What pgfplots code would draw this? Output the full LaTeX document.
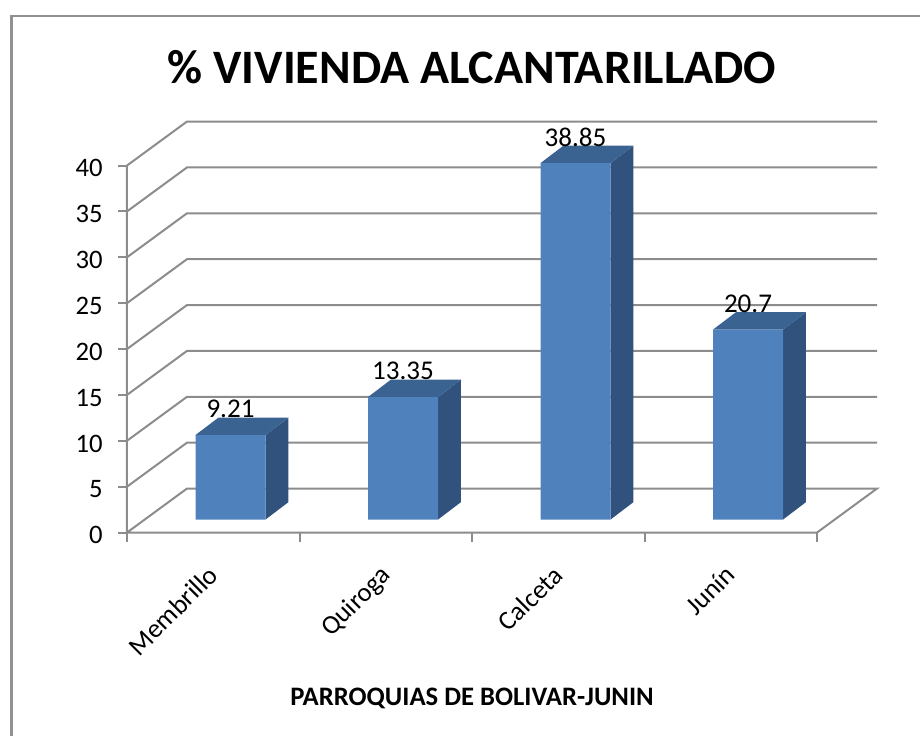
\documentclass[border=0pt]{standalone}
\usepackage{pgfplots}
\usepackage{pgfplotstable}
\usepackage{fontspec}
\setmainfont{Carlito}
\pgfplotsset{compat=1.18}
\definecolor{barfront}{HTML}{4F81BD}
\definecolor{barside}{HTML}{30527C}
\definecolor{bartop}{HTML}{3B6392}
\definecolor{gridgray}{HTML}{8C8C8C}
\definecolor{framegray}{HTML}{919191}

\pgfplotstableread{
x v
0.5 9.21
1.5 13.35
2.5 38.85
3.5 20.7
}\parroquias

\begin{document}
\begin{tikzpicture}
% 1px = .75pt, origin of the axis is at pixel (127,532.5)
\useasboundingbox (-95.25pt,-152.6pt) rectangle (594.75pt,399.4pt);
\draw[framegray,line width=1.9pt] (-86.6pt,-152.6pt) -- (-86.6pt,387.4pt) -- (594.75pt,387.4pt);
\begin{axis}[
 scale only axis,width=562.5pt,height=308.25pt,
 xmin=0,xmax=4.3478,ymin=0,ymax=44.796,clip=false,
 axis line style={draw=none},
 tick align=outside,tick pos=left,
 major tick length=6.75pt,
 tick style={draw=gridgray,line width=1.5pt},
 ytick={0,5,...,40},
 y tick label style={font=\fontsize{20}{22}\selectfont,xshift=-8pt,yshift=-2pt},
 xtick={0,1,2,3,4},
 xticklabels={},
 extra x ticks={0.5,1.5,2.5,3.5},
 extra x tick labels={Membrillo,Quiroga,Calceta,Junín},
 extra x tick style={major tick length=0pt},
 x tick label style={font=\fontsize{20}{22}\selectfont,rotate=45,anchor=north east,yshift=-9.45pt,xshift=-16.8pt},
 /pgf/number format/assume math mode=true,
 title={\fontsize{36}{38}\selectfont\bfseries \% VIVIENDA ALCANTARILLADO},
 title style={at={(0.46,1.114)},anchor=center},
 xlabel={\fontsize{20}{22}\selectfont\bfseries PARROQUIAS DE BOLIVAR-JUNIN},
 x label style={at={(0.46,-0.404)},anchor=center},
 gridline/.style={gridgray,line width=1.5pt,forget plot},
 barpart/.style={xshift=12.94pt,yshift=9.75pt,forget plot},
]
% walls
\addplot[gridline] coordinates {(0,0) (0.3478,4.796) (4.3478,4.796) (4,0) (0,0) (0,40)};
\addplot[gridline] coordinates {(0,5) (0.3478,9.796) (4.3478,9.796)};
\addplot[gridline] coordinates {(0,10) (0.3478,14.796) (4.3478,14.796)};
\addplot[gridline] coordinates {(0,15) (0.3478,19.796) (4.3478,19.796)};
\addplot[gridline] coordinates {(0,20) (0.3478,24.796) (4.3478,24.796)};
\addplot[gridline] coordinates {(0,25) (0.3478,29.796) (4.3478,29.796)};
\addplot[gridline] coordinates {(0,30) (0.3478,34.796) (4.3478,34.796)};
\addplot[gridline] coordinates {(0,35) (0.3478,39.796) (4.3478,39.796)};
\addplot[gridline] coordinates {(0,40) (0.3478,44.796) (4.3478,44.796)};
% bar sides
\addplot[barpart,fill=barside,draw=none] coordinates {(0.703,0) (0.836,1.9) (0.836,11.11) (0.703,9.21)} --cycle;
\addplot[barpart,fill=barside,draw=none] coordinates {(1.703,0) (1.836,1.9) (1.836,15.25) (1.703,13.35)} --cycle;
\addplot[barpart,fill=barside,draw=none] coordinates {(2.703,0) (2.836,1.9) (2.836,40.75) (2.703,38.85)} --cycle;
\addplot[barpart,fill=barside,draw=none] coordinates {(3.703,0) (3.836,1.9) (3.836,22.6) (3.703,20.7)} --cycle;
% bar tops
\addplot[barpart,fill=bartop,draw=none] coordinates {(0.297,9.21) (0.703,9.21) (0.836,11.11) (0.430,11.11)} --cycle;
\addplot[barpart,fill=bartop,draw=none] coordinates {(1.297,13.35) (1.703,13.35) (1.836,15.25) (1.430,15.25)} --cycle;
\addplot[barpart,fill=bartop,draw=none] coordinates {(2.297,38.85) (2.703,38.85) (2.836,40.75) (2.430,40.75)} --cycle;
\addplot[barpart,fill=bartop,draw=none] coordinates {(3.297,20.7) (3.703,20.7) (3.836,22.6) (3.430,22.6)} --cycle;
% bar fronts
\addplot[barpart,ybar,bar width=52.5pt,bar shift=0pt,fill=barfront,draw=none,
 nodes near coords,
 nodes near coords style={font=\fontsize{20.3}{22}\selectfont,black,anchor=center,yshift=19.5pt},
 /pgf/number format/fixed,/pgf/number format/precision=2]
 table[x=x,y=v] {\parroquias};
\end{axis}
\end{tikzpicture}
\end{document}
